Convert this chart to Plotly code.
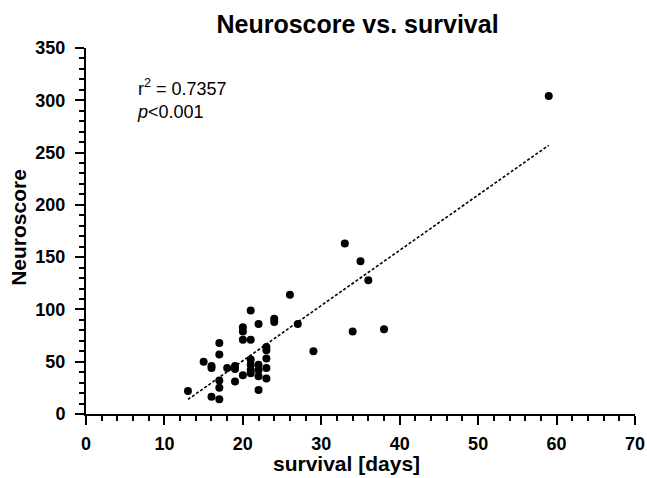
import numpy as np
import plotly.graph_objects as go

survival_days = [13, 15, 16, 16, 16, 17, 17, 17, 17, 17, 18, 19, 19, 19,
                 20, 20, 20, 20, 21, 21, 21, 21, 21, 21, 22, 22, 22, 22, 22,
                 23, 23, 23, 23, 23, 24, 24, 26, 27, 29, 33, 34, 35, 36, 38, 59]
neuroscore = [22, 50, 46, 44, 16.5, 68, 57, 32, 25, 14, 44, 46, 43, 31,
              83, 79, 71, 37, 99, 71, 52, 47, 42, 39, 86, 47, 42, 36, 23,
              64, 61, 53, 44, 34, 91, 88, 114, 86, 60, 163, 79, 146, 128, 81, 304]

x_ticks = [0, 10, 20, 30, 40, 50, 60, 70]
y_ticks = [0, 50, 100, 150, 200, 250, 300, 350]

x = np.array(survival_days, dtype=float)
y = np.array(neuroscore, dtype=float)
slope, intercept = np.polyfit(x, y, 1)
fit_x = np.array([x.min(), x.max()])
fit_y = slope * fit_x + intercept

FONT = "Liberation Sans, Arial, sans-serif"

fig = go.Figure()
fig.add_trace(go.Scatter(x=fit_x, y=fit_y, mode="lines",
                         line=dict(color="black", width=1.6, dash="3px,2px"),
                         hoverinfo="skip", showlegend=False))
fig.add_trace(go.Scatter(x=survival_days, y=neuroscore, mode="markers",
                         marker=dict(color="black", size=8),
                         cliponaxis=False, showlegend=False))

axis_common = dict(
    showgrid=False, zeroline=False, showline=True, linecolor="black", linewidth=2,
    ticks="outside", ticklen=9, tickwidth=2, tickcolor="black", automargin=False,
    tickfont=dict(family=FONT, size=18, color="black"),
)

fig.update_xaxes(range=[0, 70], tickvals=x_ticks, ticktext=["<b>%d</b>" % v for v in x_ticks],
                 minor=dict(dtick=2, ticks="outside", ticklen=5, tickwidth=1.5, tickcolor="black"),
                 ticklabelstandoff=3, ticklabeloverflow="allow",
                 **axis_common)
fig.update_yaxes(range=[0, 350], tickvals=y_ticks, ticktext=["<b>%d</b>" % v for v in y_ticks],
                 minor=dict(dtick=10, ticks="outside", ticklen=5, tickwidth=1.5, tickcolor="black"),
                 ticklabelstandoff=6,
                 **axis_common)

fig.add_annotation(xref="paper", yref="paper", x=0.475, y=-0.134, xanchor="center", yanchor="middle",
                   showarrow=False, text="<b>survival [days]</b>",
                   font=dict(family=FONT, size=21, color="black"))
fig.add_annotation(xref="paper", yref="paper", x=-0.123, y=0.51, xanchor="center", yanchor="middle",
                   showarrow=False, text="<b>Neuroscore</b>", textangle=-90,
                   font=dict(family=FONT, size=21, color="black"))

fig.add_annotation(xref="paper", yref="paper", x=0.09, y=0.928, xanchor="left", yanchor="top",
                   showarrow=False, align="left",
                   text="r<sup>2</sup> = 0.7357<br><i>p</i><0.001",
                   font=dict(family=FONT, size=18, color="black"))

fig.update_layout(
    width=647, height=478,
    margin=dict(l=86, r=11.5, t=48, b=64, autoexpand=False),
    paper_bgcolor="white", plot_bgcolor="white",
    title=dict(text="<b>Neuroscore vs. survival</b>", xref="container", x=0.5526, xanchor="center",
               yref="container", y=0.950, yanchor="middle",
               font=dict(family=FONT, size=25, color="black")),
)

fig.write_html("out.html", config={"displayModeBar": False},
               post_script="document.body.style.margin='0';document.body.style.overflow='hidden';")
